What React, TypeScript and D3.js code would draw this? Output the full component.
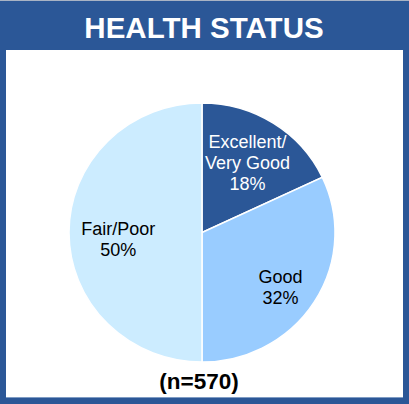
import * as d3 from "d3";

const categories = ["Excellent/\nVery Good", "Good", "Fair/Poor"];
const values = [18, 32, 50];
const colors = ["#2B5797", "#99CCFF", "#CCECFF"];
const labelColors = ["#ffffff", "#000000", "#000000"];
const title = "HEALTH STATUS";
const footnote = "(n=570)";

const W = 409;
const H = 404;
const cx = 202;
const cy = 232.5;
const R = 133;
const squash = 0.974; // pie is a touch flatter than round

// where Excel dropped each label (fraction of radius, vertical nudge)
const labelR = [0.64, 0.7, 0.63];
const labelDy = [0, 6, 6.5];

export default function App() {
  const pie = d3
    .pie<number>()
    .sort(null)
    .value((d) => d);
  const arcs = pie(values);
  const arc = d3.arc<d3.PieArcDatum<number>>().innerRadius(0).outerRadius(R);

  return (
    <div style={{ position: "absolute", left: 0, top: 0 }}>
      <svg width={W} height={H} style={{ display: "block" }}>
        {/* frame */}
        <rect x={0} y={0} width={W} height={H} fill="#2B5797" />
        <rect x={0} y={0} width={W} height={1} fill="#A9B3C4" />
        <rect x={6} y={50} width={397} height={347} fill="#ffffff" />
        <rect x={6} y={397} width={397} height={1} fill="#7F9CC4" />
        <text
          x={204}
          y={38}
          textAnchor="middle"
          fill="#ffffff"
          fontFamily="Liberation Sans, Arial, sans-serif"
          fontWeight="bold"
          fontSize={29.5}
        >
          {title}
        </text>

        <g transform={`translate(${cx},${cy}) scale(1,${squash})`}>
          {arcs.map((a, i) => (
            <path
              key={i}
              d={arc(a) || ""}
              fill={colors[i]}
              stroke="#ffffff"
              strokeWidth={1.5}
            />
          ))}
        </g>

        {arcs.map((a, i) => {
          const r = R * labelR[i];
          const [lx, ly] = d3
            .arc<d3.PieArcDatum<number>>()
            .innerRadius(r)
            .outerRadius(r)
            .centroid(a);
          const lines = [...categories[i].split("\n"), `${values[i]}%`];
          const lh = 20.7;
          const x = cx + lx;
          const y = cy + ly * squash + labelDy[i];
          const first = y - ((lines.length - 1) * lh) / 2 + 6.5;
          return (
            <text
              key={i}
              textAnchor="middle"
              fill={labelColors[i]}
              fontFamily="Liberation Sans, Arial, sans-serif"
              fontSize={18}
            >
              {lines.map((t, j) => (
                <tspan key={j} x={x} y={first + j * lh}>
                  {t}
                </tspan>
              ))}
            </text>
          );
        })}

        <text
          x={199}
          y={389}
          textAnchor="middle"
          fill="#000000"
          fontFamily="Liberation Sans, Arial, sans-serif"
          fontWeight="bold"
          fontSize={22.5}
        >
          {footnote}
        </text>
      </svg>
    </div>
  );
}
